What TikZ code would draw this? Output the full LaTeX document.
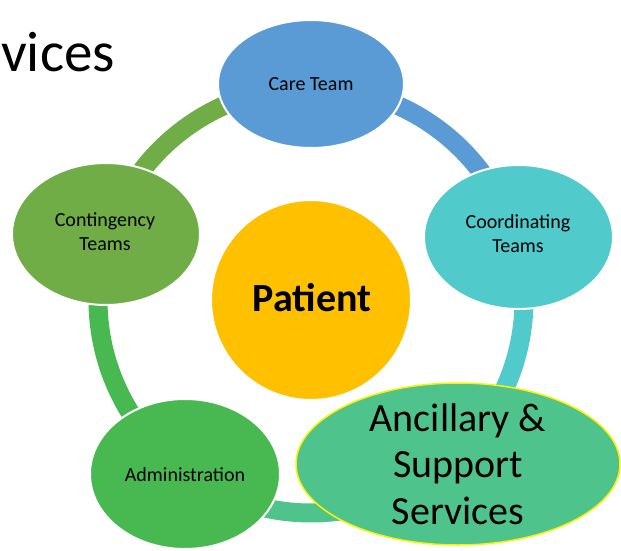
\documentclass[tikz,border=0pt]{standalone}
\usepackage{fontspec}
\setmainfont{Carlito}
\usetikzlibrary{shapes.geometric}
\definecolor{cCare}{HTML}{5B9BD5}
\definecolor{cCoord}{HTML}{51CACB}
\definecolor{cAnc}{HTML}{4EC48C}
\definecolor{cAdm}{HTML}{48B950}
\definecolor{cCont}{HTML}{70AD47}
\definecolor{cPat}{HTML}{FFC000}
\tikzset{
  ringarc/.style={line width=19pt},
  ellbox/.style={ellipse, inner sep=0pt, draw=white, line width=2pt},
  lbl/.style={align=center, text=black, font=\fontsize{20}{24}\selectfont},
}
\begin{document}
\begin{tikzpicture}[x=1pt,y=1pt]
\useasboundingbox (0,0) rectangle (621,550);
\clip (0,0) rectangle (621,550);
\coordinate (O) at (311,250);
% ring arcs
\draw[ringarc, cCare] (O) ++(90:213) arc[start angle=90, end angle=16.9, radius=213];
\draw[ringarc, cCoord] (O) ++(16.9:213) arc[start angle=16.9, end angle=-48.1, radius=213];
\draw[ringarc, cAnc] (O) ++(-48.1:213) arc[start angle=-48.1, end angle=-125.9, radius=213];
\draw[ringarc, cAdm] (O) ++(-125.9:213) arc[start angle=-125.9, end angle=-197.8, radius=213];
\draw[ringarc, cCont] (O) ++(162.2:213) arc[start angle=162.2, end angle=90, radius=213];
% title fragment
\node[anchor=base west, inner sep=0pt, font=\fontsize{57}{60}\selectfont] (title) at (1,478) {vices};
% nodes
\node[ellbox, fill=cCare, minimum width=186pt, minimum height=128pt] (care) at (311,466) {};
\node[lbl] (care-t) at (care) {Care Team};
\node[ellbox, fill=cCoord, minimum width=189pt, minimum height=144pt] (coord) at (518.5,313) {};
\node[lbl] (coord-t) at (518,316) {Coordinating\\Teams};
\node[ellbox, fill=cCont, minimum width=188pt, minimum height=142pt] (cont) at (106,316) {};
\node[lbl] (cont-t) at (105,318) {Contingency\\Teams};
\node[ellbox, fill=cAdm, minimum width=190pt, minimum height=150pt] (adm) at (185,76) {};
\node[lbl] (adm-t) at (185,75) {Administration};
\node[circle, inner sep=0pt, fill=cPat, draw=white, line width=2pt, minimum size=200pt] (pat) at (O) {};
\node[font=\fontsize{40}{46}\selectfont\bfseries] (pat-t) at (312,252) {Patient};
\node[ellipse, inner sep=0pt, fill=cAnc, draw=yellow, line width=1.5pt, minimum width=324pt, minimum height=162pt] (anc) at (458,86) {};
\node[align=center, font=\fontsize{40}{46.5}\selectfont] (anc-t) at (458,86) {Ancillary \&\\Support\\Services};
\end{tikzpicture}
\end{document}
